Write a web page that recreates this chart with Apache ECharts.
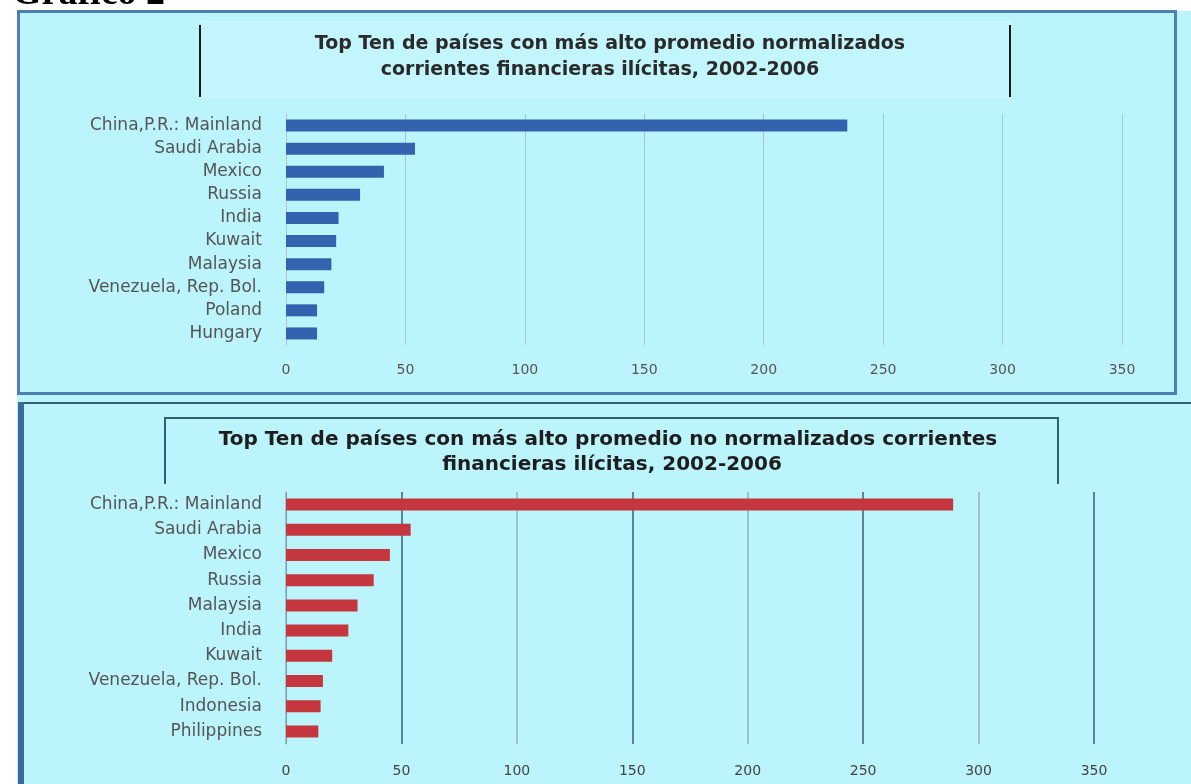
<!DOCTYPE html>
<html>
<head>
<meta charset="utf-8">
<script src="https://cdn.jsdelivr.net/npm/echarts@6/dist/echarts.min.js"></script>
<style>
html,body{margin:0;padding:0;background:#fff;}
#c{width:1191px;height:784px;}
</style>
</head>
<body>
<div id="c"></div>
<script>
// ---- data ----
const pageTitle = 'Gráfico 2';
const topTitleLines = ['Top Ten de países con más alto promedio normalizados', 'corrientes financieras ilícitas, 2002-2006'];
const topCategories = ['China,P.R.: Mainland', 'Saudi Arabia', 'Mexico', 'Russia', 'India', 'Kuwait', 'Malaysia', 'Venezuela, Rep. Bol.', 'Poland', 'Hungary'];
const topValues = [235, 54, 41, 31, 22, 21, 19, 16, 13, 13];
const bottomTitleLines = ['Top Ten de países con más alto promedio no normalizados corrientes', 'financieras ilícitas, 2002-2006'];
const bottomCategories = ['China,P.R.: Mainland', 'Saudi Arabia', 'Mexico', 'Russia', 'Malaysia', 'India', 'Kuwait', 'Venezuela, Rep. Bol.', 'Indonesia', 'Philippines'];
const bottomValues = [289, 54, 45, 38, 31, 27, 20, 16, 15, 14];
const axisMin = 0, axisMax = 350, axisStep = 50;

const chart = echarts.init(document.getElementById('c'), null, {renderer: 'canvas'});
const cyan = '#bcf4fc';
const labelFont = {fontFamily: 'DejaVu Sans', fontSize: 17, color: '#555'};

const option = {
  backgroundColor: '#ffffff',
  animation: false,
  grid: [
    {left: 286, right: 69, top: 114, height: 231},
    {left: 286, right: 97, top: 492, height: 252}
  ],
  xAxis: [
    {type: 'value', gridIndex: 0, min: axisMin, max: axisMax, interval: axisStep,
     axisLine: {show: false}, axisTick: {show: false},
     axisLabel: {margin: 18, fontFamily: 'DejaVu Sans', fontSize: 14, color: '#555'},
     splitLine: {show: true, lineStyle: {color: '#9fc6d2', width: 1}}},
    {type: 'value', gridIndex: 1, min: axisMin, max: axisMax, interval: axisStep,
     axisLine: {show: false}, axisTick: {show: false},
     axisLabel: {margin: 20, fontFamily: 'DejaVu Sans', fontSize: 14, color: '#444'},
     splitLine: {show: true, lineStyle: {color: ['#8fb3c0', '#3e6272'], width: 1.5}}}
  ],
  yAxis: [
    {type: 'category', gridIndex: 0, data: topCategories, inverse: true,
     axisLine: {show: true, lineStyle: {color: '#a9cbd6'}}, axisTick: {show: false},
     axisLabel: Object.assign({margin: 24}, labelFont)},
    {type: 'category', gridIndex: 1, data: bottomCategories, inverse: true,
     axisLine: {show: true, lineStyle: {color: '#7f9aa5'}}, axisTick: {show: false},
     axisLabel: Object.assign({margin: 24}, labelFont)}
  ],
  series: [
    {type: 'bar', xAxisIndex: 0, yAxisIndex: 0, data: topValues, barWidth: 12,
     itemStyle: {color: '#3462ae'}},
    {type: 'bar', xAxisIndex: 1, yAxisIndex: 1, data: bottomValues, barWidth: 12,
     itemStyle: {color: '#c6363e'}}
  ],
  graphic: [
    // panel backgrounds
    {type: 'rect', z: -100, shape: {x: 17, y: 11, width: 1174, height: 773}, style: {fill: cyan}},
    {type: 'rect', z: -90, shape: {x: 18.5, y: 11.5, width: 1157, height: 382}, style: {fill: 'none', stroke: '#4d7fb4', lineWidth: 3}},
    {type: 'line', z: -90, shape: {x1: 18, y1: 403, x2: 1191, y2: 403}, style: {stroke: '#31607a', lineWidth: 2}},
    {type: 'line', z: -90, shape: {x1: 21, y1: 402, x2: 21, y2: 784}, style: {stroke: '#3b6a98', lineWidth: 6}},
    // top title box
    {type: 'rect', z: -80, shape: {x: 200, y: 22, width: 810, height: 75}, style: {fill: '#c2f6fc', stroke: '#d9f7fb', lineWidth: 1}},
    {type: 'line', z: -70, shape: {x1: 200, y1: 25, x2: 200, y2: 97}, style: {stroke: '#1b1b1b', lineWidth: 2}},
    {type: 'line', z: -70, shape: {x1: 1010, y1: 25, x2: 1010, y2: 97}, style: {stroke: '#1b1b1b', lineWidth: 2}},
    // bottom title box
    {type: 'polyline', z: -70, shape: {points: [[165, 484], [165, 418], [1058, 418], [1058, 484]]}, style: {fill: 'none', stroke: '#2f5f6e', lineWidth: 2}},
    // texts
    {type: 'text', z: 100, x: 12, y: -25, style: {text: pageTitle, font: 'bold 38px "Liberation Serif"', fill: '#000'}},
    {type: 'text', z: 100, x: 610, y: 44, style: {text: topTitleLines[0], font: 'bold 19px "DejaVu Sans"', fill: '#2a2a2a', align: 'center', verticalAlign: 'middle'}},
    {type: 'text', z: 100, x: 600, y: 70, style: {text: topTitleLines[1], font: 'bold 19px "DejaVu Sans"', fill: '#2a2a2a', align: 'center', verticalAlign: 'middle'}},
    {type: 'text', z: 100, x: 608, y: 440, style: {text: bottomTitleLines[0], font: 'bold 20px "DejaVu Sans"', fill: '#1e1e1e', align: 'center', verticalAlign: 'middle'}},
    {type: 'text', z: 100, x: 612, y: 465, style: {text: bottomTitleLines[1], font: 'bold 20px "DejaVu Sans"', fill: '#1e1e1e', align: 'center', verticalAlign: 'middle'}}
  ]
};
chart.setOption(option);
</script>
</body>
</html>
